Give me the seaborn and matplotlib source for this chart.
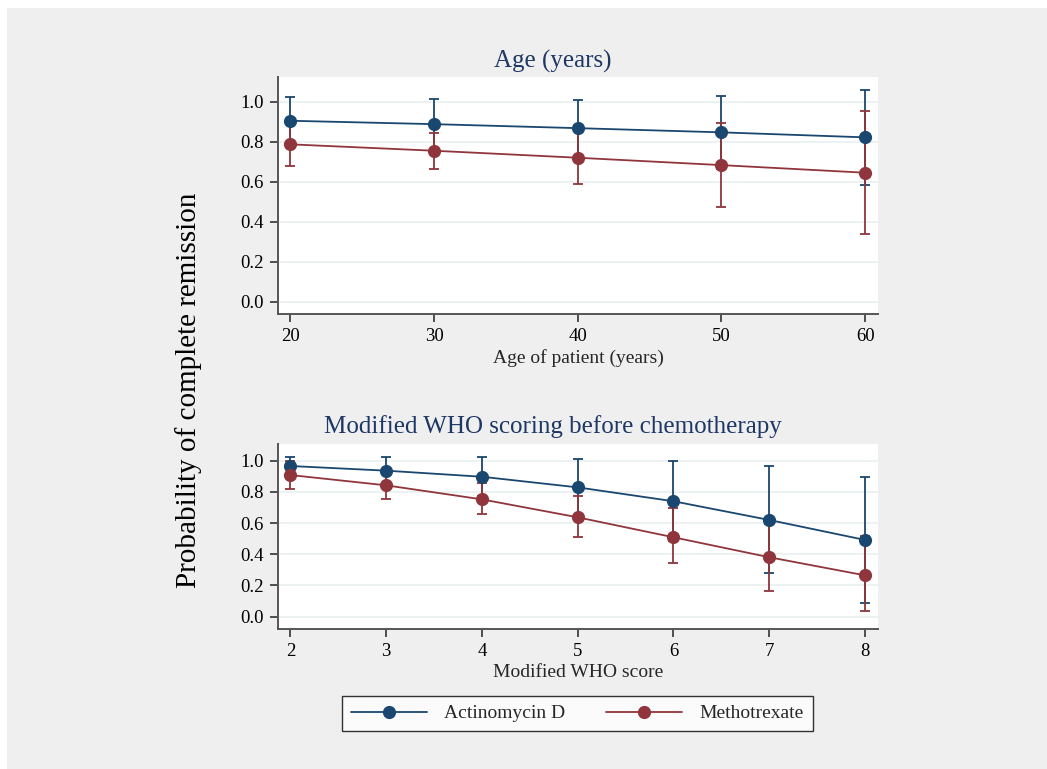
import matplotlib
matplotlib.use("Agg")
import matplotlib.pyplot as plt
import seaborn as sns
import pandas as pd
import numpy as np
from matplotlib.patches import Rectangle
from matplotlib.lines import Line2D

# ---- Data ----
treatments = ["Actinomycin D", "Methotrexate"]

age = [20, 30, 40, 50, 60]
age_act = [0.905, 0.888, 0.868, 0.847, 0.822]
age_act_lo = [0.785, 0.764, 0.726, 0.666, 0.585]
age_act_hi = [1.025, 1.012, 1.010, 1.028, 1.058]
age_mtx = [0.787, 0.755, 0.720, 0.683, 0.645]
age_mtx_lo = [0.680, 0.665, 0.588, 0.475, 0.340]
age_mtx_hi = [0.894, 0.845, 0.852, 0.895, 0.952]

who = [2, 3, 4, 5, 6, 7, 8]
who_act = [0.966, 0.936, 0.897, 0.829, 0.740, 0.620, 0.492]
who_act_lo = [0.906, 0.846, 0.772, 0.647, 0.482, 0.282, 0.088]
who_act_hi = [1.026, 1.026, 1.022, 1.011, 0.998, 0.966, 0.897]
who_mtx = [0.908, 0.842, 0.752, 0.637, 0.509, 0.381, 0.265]
who_mtx_lo = [0.821, 0.752, 0.656, 0.509, 0.344, 0.165, 0.035]
who_mtx_hi = [0.995, 0.932, 0.855, 0.774, 0.699, 0.597, 0.519]

yticks = [0.0, 0.2, 0.4, 0.6, 0.8, 1.0]
ytick_labels = ["0.0", "0.2", "0.4", "0.6", "0.8", "1.0"]

# ---- Styling ----
sns.set_theme(style="white")
plt.rcParams["font.family"] = ["Liberation Serif", "DejaVu Serif"]

BLUE = "#1a476f"
RED = "#90353b"
GRID = "#eaf0f1"
BG = "#efefef"
TITLE_C = "#1e3765"
palette = {treatments[0]: BLUE, treatments[1]: RED}

W, H = 1047, 769
fig = plt.figure(figsize=(W / 100, H / 100), dpi=100, facecolor="white")
fig.patches.append(Rectangle((7 / W, 0), 1 - 7 / W, 1 - 8 / H,
                             transform=fig.transFigure, facecolor=BG,
                             edgecolor="none", zorder=-10))


def px_axes(left, top, right, bottom):
    return fig.add_axes([left / W, 1 - bottom / H, (right - left) / W, (bottom - top) / H])


def draw_panel(ax, x, act, act_lo, act_hi, mtx, mtx_lo, mtx_hi, xlim, ylim, title, xlabel, xticks,
               title_y):
    df = pd.DataFrame({
        "x": list(x) * 2,
        "p": list(act) + list(mtx),
        "lo": list(act_lo) + list(mtx_lo),
        "hi": list(act_hi) + list(mtx_hi),
        "Treatment": [treatments[0]] * len(x) + [treatments[1]] * len(x),
    })
    ax.set_facecolor("white")
    for yt in yticks:
        ax.axhline(yt, color=GRID, lw=1.3, zorder=0)
    for t in treatments:
        sub = df[df["Treatment"] == t]
        ax.errorbar(sub["x"], sub["p"],
                    yerr=[sub["p"] - sub["lo"], sub["hi"] - sub["p"]],
                    fmt="none", ecolor=palette[t], elinewidth=1.3,
                    capsize=3.8, capthick=1.3, zorder=2)
    sns.lineplot(data=df, x="x", y="p", hue="Treatment", palette=palette,
                 marker="o", markersize=9.5, markeredgewidth=0, linewidth=1.3,
                 ax=ax, legend=False, zorder=3)
    ax.set_xlim(*xlim)
    ax.set_ylim(*ylim)
    ax.set_xticks(xticks)
    ax.set_xticklabels([str(v) for v in xticks])
    ax.set_yticks(yticks)
    ax.set_yticklabels(ytick_labels)
    ax.tick_params(axis="both", direction="out", length=6, width=1.2,
                   colors="#333333", labelcolor="black", labelsize=13.5, pad=4,
                   bottom=True, left=True)
    for s in ["top", "right"]:
        ax.spines[s].set_visible(False)
    for s in ["left", "bottom"]:
        ax.spines[s].set_color("#555555")
        ax.spines[s].set_linewidth(1.4)
    fig.text(553 / W, 1 - title_y / H, title, fontsize=18, color=TITLE_C,
             ha="center", va="center")
    ax.set_xlabel(xlabel, fontsize=14, labelpad=3)
    ax.set_ylabel("")


ax1 = px_axes(278, 77, 878, 314)
draw_panel(ax1, age, age_act, age_act_lo, age_act_hi, age_mtx, age_mtx_lo, age_mtx_hi,
           (19.13, 60.9), (-0.062, 1.124), "Age (years)", "Age of patient (years)", age, 61)

ax2 = px_axes(278, 444, 878, 629)
draw_panel(ax2, who, who_act, who_act_lo, who_act_hi, who_mtx, who_mtx_lo, who_mtx_hi,
           (1.87, 8.136), (-0.079, 1.107), "Modified WHO scoring before chemotherapy",
           "Modified WHO score", who, 427)

fig.text(189 / W, 1 - 390 / H, "Probability of complete remission", rotation=90,
         ha="center", va="center", fontsize=21, color="black")

handles = [Line2D([], [], color=palette[t], marker="o", markersize=9.5,
                  markeredgewidth=0, linewidth=1.3) for t in treatments]
leg = fig.legend(handles, treatments, loc="center", bbox_to_anchor=(577.5 / W, 1 - 713.5 / H),
                 ncol=2, fontsize=14, frameon=True, fancybox=False, handlelength=3.9,
                 handletextpad=0.9, columnspacing=2.1, borderpad=0.45)
leg.get_frame().set_edgecolor("black")
leg.get_frame().set_linewidth(1.0)
leg.get_frame().set_facecolor("white")

fig.savefig("out.png", dpi=100, facecolor=fig.get_facecolor())
